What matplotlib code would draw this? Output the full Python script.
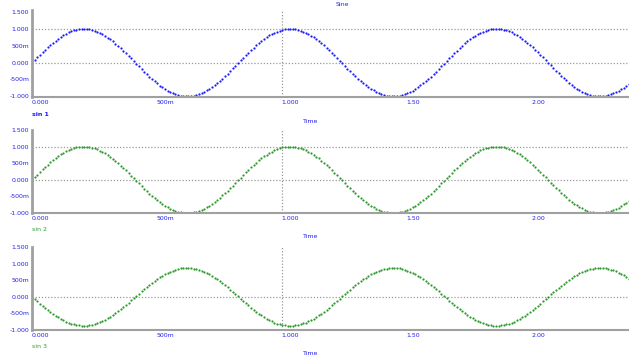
import numpy as np
import matplotlib
matplotlib.use("Agg")
import matplotlib.pyplot as plt

# signal parameters
freq = 1.21          # cycles per second
amps = [1.0, 1.0, -0.87]
names = ["sin 1", "sin 2", "sin 3"]
colors = ["#1a1aff", "#2e9a2e", "#2e9a2e"]
n_samples = 230
t_end = 2.39

xticks = [0.0, 0.5, 1.0, 1.5, 2.0]
xlabels = ["0.000", "500m", "1.000", "1.50", "2.00"]
yticks = [-1.0, -0.5, 0.0, 0.5, 1.0, 1.5]
ylabels = ["-1.000", "-500m", "0.000", "500m", "1.000", "1.500"]
hgrids = [[0.0, 1.0], [0.0, 1.0], [0.0]]

t = np.linspace(0, t_end, n_samples)

fig = plt.figure(figsize=(6.29, 3.58), dpi=100)
boxes = [[0.051, 0.729, 0.949, 0.243],
         [0.051, 0.405, 0.949, 0.232],
         [0.051, 0.078, 0.949, 0.232]]
ylims = [(-1.02, 1.56), (-1.0, 1.5), (-0.95, 1.5)]
tick_blue = "#2222ee"

for i in range(3):
    ax = fig.add_axes(boxes[i])
    y = amps[i] * np.sin(2 * np.pi * freq * t)
    ax.plot(t, y, linestyle="none", marker="o", markersize=1.6,
            markeredgewidth=0, color=colors[i])
    ax.set_xlim(0, t_end)
    ax.set_ylim(*ylims[i])
    for g in hgrids[i]:
        ax.axhline(g, color="#9a9a9a", linestyle=(0, (1, 1.5)), linewidth=0.9, zorder=0)
    ax.axvline(1.0, color="#9a9a9a", linestyle=(0, (1, 1.5)), linewidth=0.9, zorder=0)
    for s in ["top", "right"]:
        ax.spines[s].set_visible(False)
    ax.spines["left"].set_color("#a0a0a0")
    ax.spines["left"].set_linewidth(2)
    ax.spines["bottom"].set_color("#a0a0a0")
    ax.spines["bottom"].set_linewidth(1.5)
    ax.set_xticks(xticks)
    ax.set_xticklabels(xlabels)
    ax.set_yticks(yticks)
    ax.set_yticklabels(ylabels)
    ax.tick_params(length=0, labelsize=4.5, labelcolor=tick_blue, pad=2)
    for lab in ax.get_xticklabels():
        lab.set_horizontalalignment("left")
    ax.set_xlabel("Time", fontsize=4.5, color=tick_blue, labelpad=2)
    ax.xaxis.set_label_coords(0.466, -0.25)
    ax.text(0.0, -0.17, names[i], transform=ax.transAxes, fontsize=4.5,
            color=colors[i], ha="left", va="top",
            fontweight="bold" if i == 0 else "normal")
    if i == 0:
        ax.set_title("Sine", fontsize=4.5, color=tick_blue, pad=3, x=0.52)

fig.savefig("out.png", dpi=100)
